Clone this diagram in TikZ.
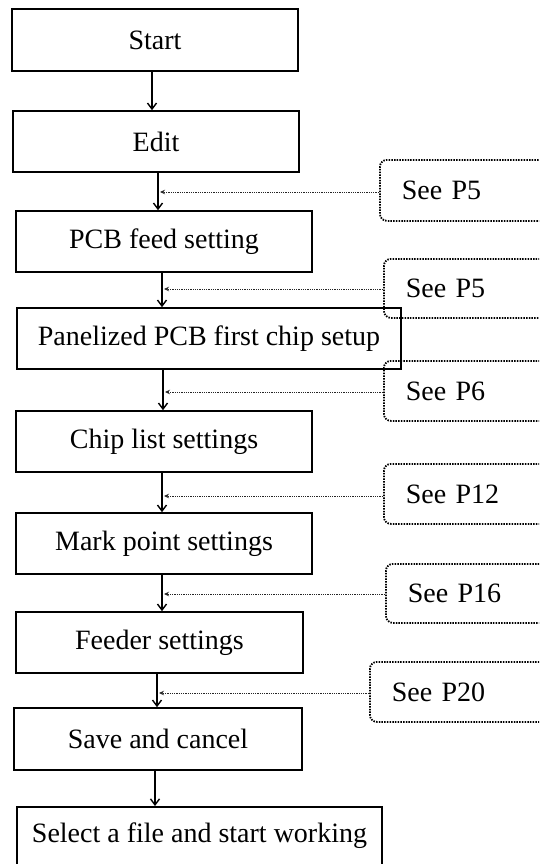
\documentclass[tikz,border=0pt]{standalone}
\usepackage{fontspec}
\setmainfont{Liberation Serif}
\usetikzlibrary{arrows.meta}

\tikzset{
  box/.style={draw, line width=1.6pt, rectangle, inner sep=0pt,
    font=\fontsize{28}{33}\selectfont},
  seebox/.style={draw, line width=1.8pt, dash pattern=on 1.5pt off 1.2pt,
    rounded corners=7pt, anchor=north west, inner xsep=22pt, inner ysep=0pt,
    text width=200pt, align=left, font=\fontsize{28}{33}\selectfont},
  flow/.style={line width=1.4pt, -{Straight Barb[length=6pt,width=9pt,line width=1.4pt]}},
  ref/.style={line width=0.9pt, black!85, dash pattern=on 0.9pt off 0.9pt,
    -{Stealth[length=5pt,width=4.5pt]}}
}

\begin{document}
\begin{tikzpicture}[x=1pt,y=-1pt]
\useasboundingbox (0,0) rectangle (539,864);
\clip (0,0) rectangle (539,864);

% main sequence of steps
\node[box, minimum width=286pt, minimum height=62pt] (start)  at (155,40)    {Start};
\node[box, minimum width=286pt, minimum height=61pt] (edit)   at (156,141.5) {Edit};
\node[box, minimum width=296pt, minimum height=61pt] (pcb)    at (164,241.5) {PCB feed setting};
\node[box, minimum width=384pt, minimum height=61pt] (panel)  at (209,338.5) {Panelized PCB first chip setup};
\node[box, minimum width=296pt, minimum height=61pt] (chip)   at (164,441.5) {Chip list settings};
\node[box, minimum width=296pt, minimum height=61pt] (mark)   at (164,543.5) {Mark point settings};
\node[box, minimum width=287pt, minimum height=61pt] (feeder) at (159.5,642.5) {Feeder settings};
\node[box, minimum width=288pt, minimum height=62pt] (save)   at (158,739)   {Save and cancel};
\node[box, minimum width=365pt, text height=36pt, text depth=50pt, anchor=north]
  (select) at (199.5,806) {Select a file and start working};

% page references
\node[seebox, minimum height=61pt] (s1) at (379,159) {See P5};
\node[seebox, minimum height=59pt] (s2) at (383,258) {See P5};
\node[seebox, minimum height=60pt] (s3) at (383,360) {See P6};
\node[seebox, minimum height=60pt] (s4) at (383,463) {See P12};
\node[seebox, minimum height=59pt] (s5) at (385,563) {See P16};
\node[seebox, minimum height=60pt] (s6) at (369,661) {See P20};

% flow arrows
\draw[flow] (start.south -| 152,0)  -- (edit.north -| 152,0);
\draw[flow] (edit.south -| 158,0)   -- (pcb.north -| 158,0);
\draw[flow] (pcb.south -| 162,0)    -- (panel.north -| 162,0);
\draw[flow] (panel.south -| 163,0)  -- (chip.north -| 163,0);
\draw[flow] (chip.south -| 162,0)   -- (mark.north -| 162,0);
\draw[flow] (mark.south -| 162,0)   -- (feeder.north -| 162,0);
\draw[flow] (feeder.south -| 157,0) -- (save.north -| 157,0);
\draw[flow] (save.south -| 155,0)   -- (select.north -| 155,0);

% reference pointers onto the flow lines
\coordinate (j1) at (160,192);
\coordinate (j2) at (164,289);
\coordinate (j3) at (165,392);
\coordinate (j4) at (164,496);
\coordinate (j5) at (164,594);
\coordinate (j6) at (159,693);
\draw[ref] (s1.west |- j1) -- (j1);
\draw[ref] (s2.west |- j2) -- (j2);
\draw[ref] (s3.west |- j3) -- (j3);
\draw[ref] (s4.west |- j4) -- (j4);
\draw[ref] (s5.west |- j5) -- (j5);
\draw[ref] (s6.west |- j6) -- (j6);
\end{tikzpicture}
\end{document}
